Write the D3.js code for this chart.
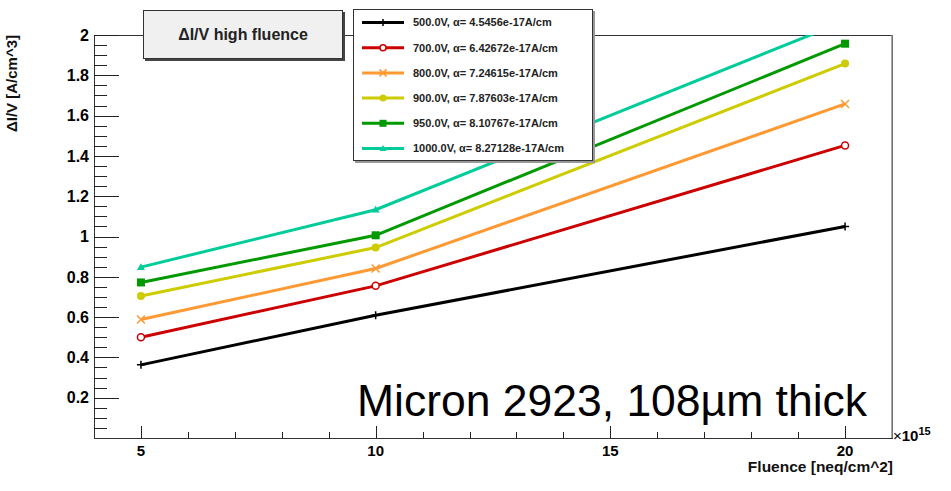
<!doctype html>
<html>
  <head>
    <meta charset="utf-8">
    <title>dI/V high fluence</title>
    <script src="https://cdn.jsdelivr.net/npm/d3@7"></script>
    <style>
      body { margin: 0; background: #fff; }
      text { font-family: "Liberation Sans", Arial, sans-serif; }
    </style>
  </head>
  <body>
    <script>
      // 数据
      const fluence = [5, 10, 20];
      const voltages = ['500.0V', '700.0V', '800.0V', '900.0V', '950.0V', '1000.0V'];
      const alphas = ['4.5456e-17', '6.42672e-17', '7.24615e-17', '7.87603e-17', '8.10767e-17', '8.27128e-17'];
      const v500 = [0.363, 0.609, 1.050];
      const v700 = [0.500, 0.755, 1.452];
      const v800 = [0.588, 0.841, 1.658];
      const v900 = [0.705, 0.945, 1.858];
      const v950 = [0.772, 1.006, 1.957];
      const v1000 = [0.848, 1.133, 2.069];
      const xTicks = [5, 10, 15, 20];
      const yTicks = [0.2, 0.4, 0.6, 0.8, 1, 1.2, 1.4, 1.6, 1.8, 2];

      const seriesValues = [v500, v700, v800, v900, v950, v1000];
      const colors = ['#000000', '#cc0000', '#ff9933', '#cccc00', '#009900', '#00cc99'];
      const markers = ['plus', 'ocircle', 'cross', 'circle', 'square', 'triangle'];

      const svgWidth = 951, svgHeight = 491;
      const pLeft = 94, pRight = 892, pTop = 35, pBottom = 438;

      const svg = d3.select('body').append('svg')
          .attr('width', svgWidth)
          .attr('height', svgHeight);

      const x = d3.scaleLinear().domain([4, 21]).range([pLeft, pRight]);
      const y = d3.scaleLinear().domain([0, 2]).range([pBottom, pTop]);

      svg.append('defs').append('clipPath').attr('id', 'plot')
        .append('rect')
          .attr('x', pLeft).attr('y', pTop)
          .attr('width', pRight - pLeft).attr('height', pBottom - pTop);

      // 框
      svg.append('rect')
          .attr('x', pLeft + 0.5).attr('y', pTop + 0.5)
          .attr('width', pRight - pLeft).attr('height', pBottom - pTop)
          .attr('fill', 'none')
          .attr('stroke', '#333')
          .attr('stroke-width', 1);
      svg.append('line')
          .attr('x1', pRight).attr('x2', pRight).attr('y1', pTop).attr('y2', pBottom)
          .attr('stroke', '#888').attr('stroke-width', 1.5);

      // Y 轴刻度
      const yMinor = d3.range(0.05, 2.001, 0.05);
      svg.append('g').selectAll('line')
        .data(yMinor)
        .enter().append('line')
          .attr('x1', pLeft)
          .attr('x2', d => Math.abs(d * 5 - Math.round(d * 5)) < 1e-6 ? pLeft + 25 : pLeft + 13)
          .attr('y1', d => Math.round(y(d)) + 0.5)
          .attr('y2', d => Math.round(y(d)) + 0.5)
          .attr('stroke', '#222');
      svg.append('g').selectAll('text')
        .data(yTicks)
        .enter().append('text')
          .attr('x', 89)
          .attr('y', d => y(d))
          .attr('dy', '0.36em')
          .attr('text-anchor', 'end')
          .attr('font-size', 16)
          .attr('font-weight', 'bold')
          .text(d => d3.format('~g')(d));

      // X 轴刻度
      const xMinor = d3.range(5, 21, 1);
      svg.append('g').selectAll('line')
        .data(xMinor)
        .enter().append('line')
          .attr('x1', d => Math.round(x(d)) + 0.5)
          .attr('x2', d => Math.round(x(d)) + 0.5)
          .attr('y1', pBottom)
          .attr('y2', d => d % 5 === 0 ? pBottom - 12 : pBottom - 6)
          .attr('stroke', '#222');
      svg.append('g').selectAll('text')
        .data(xTicks)
        .enter().append('text')
          .attr('x', d => x(d))
          .attr('y', 456)
          .attr('text-anchor', 'middle')
          .attr('font-size', 15)
          .attr('font-weight', 'bold')
          .text(d => d);

      const expo = svg.append('text')
          .attr('x', 893).attr('y', 441)
          .attr('font-size', 15);
      expo.append('tspan').text('×');
      expo.append('tspan').attr('font-weight', 'bold').text('10');
      expo.append('tspan').attr('font-weight', 'bold').attr('font-size', 11).attr('dy', -6).text('15');

      // 轴标题
      svg.append('text')
          .attr('x', 893).attr('y', 472)
          .attr('text-anchor', 'end')
          .attr('font-size', 15.5)
          .attr('font-weight', 'bold')
          .attr('fill', '#111')
          .text('Fluence [neq/cm^2]');
      svg.append('text')
          .attr('transform', 'translate(17,35) rotate(-90)')
          .attr('text-anchor', 'end')
          .attr('font-size', 15)
          .attr('font-weight', 'bold')
          .attr('fill', '#111')
          .text('ΔI/V [A/cm^3]');

      // 标记
      function drawMarker(g, type, color, size) {
        const s = size;
        if (type === 'plus') {
          g.append('path').attr('d', `M${-s},0H${s}M0,${-s}V${s}`)
            .attr('stroke', color).attr('stroke-width', 1.5).attr('fill', 'none');
        } else if (type === 'cross') {
          g.append('path').attr('d', `M${-s},${-s}L${s},${s}M${-s},${s}L${s},${-s}`)
            .attr('stroke', color).attr('stroke-width', 1.5).attr('fill', 'none');
        } else if (type === 'ocircle') {
          g.append('circle').attr('r', s - 0.5)
            .attr('stroke', color).attr('stroke-width', 1.5).attr('fill', '#fff');
        } else if (type === 'circle') {
          g.append('circle').attr('r', s).attr('fill', color);
        } else if (type === 'square') {
          g.append('rect').attr('x', -s).attr('y', -s)
            .attr('width', 2 * s).attr('height', 2 * s).attr('fill', color);
        } else {
          g.append('path').attr('d', `M0,${-s}L${s},${s * 0.7}L${-s},${s * 0.7}Z`).attr('fill', color);
        }
      }

      // 曲线
      const line = d3.line()
          .x((d, i) => x(fluence[i]))
          .y(d => y(d));
      const plot = svg.append('g').attr('clip-path', 'url(#plot)');
      seriesValues.forEach((vals, k) => {
        plot.append('path')
            .datum(vals)
            .attr('d', line)
            .attr('fill', 'none')
            .attr('stroke', colors[k])
            .attr('stroke-width', 3);
        vals.forEach((v, i) => {
          const g = plot.append('g')
              .attr('transform', `translate(${x(fluence[i])},${y(v)})`);
          drawMarker(g, markers[k], colors[k], 4);
        });
      });

      // 标题框
      svg.append('rect')
          .attr('x', 145).attr('y', 12)
          .attr('width', 200).attr('height', 49)
          .attr('fill', '#444');
      svg.append('rect')
          .attr('x', 143.5).attr('y', 10.5)
          .attr('width', 199).attr('height', 48)
          .attr('fill', '#f0f0f0')
          .attr('stroke', '#333');
      svg.append('text')
          .attr('x', 243).attr('y', 40)
          .attr('text-anchor', 'middle')
          .attr('font-size', 16)
          .attr('font-weight', 'bold')
          .attr('fill', '#222')
          .text('ΔI/V high fluence');

      // 图例
      svg.append('rect')
          .attr('x', 355).attr('y', 11)
          .attr('width', 240).attr('height', 152)
          .attr('fill', '#999');
      svg.append('rect')
          .attr('x', 353.5).attr('y', 9.5)
          .attr('width', 239).attr('height', 151)
          .attr('fill', '#fff')
          .attr('stroke', '#333');
      const legend = svg.append('g').selectAll('g')
        .data(voltages)
        .enter().append('g')
          .attr('transform', (d, i) => `translate(0,${22.5 + i * 25.2})`);
      legend.append('line')
          .attr('x1', 362).attr('x2', 404)
          .attr('stroke', (d, i) => colors[i])
          .attr('stroke-width', 3);
      legend.each(function (d, i) {
        const g = d3.select(this).append('g').attr('transform', 'translate(383,0)');
        drawMarker(g, markers[i], colors[i], 3.5);
      });
      legend.append('text')
          .attr('x', 413).attr('dy', '0.36em')
          .attr('font-size', 11)
          .attr('font-weight', 'bold')
          .attr('fill', '#222')
          .text((d, i) => `${d}, α= ${alphas[i]}A/cm`);

      // 注释
      svg.append('text')
          .attr('x', 357).attr('y', 416)
          .attr('font-family', '"Open Sans", sans-serif')
          .attr('font-size', 45)
          .attr('textLength', 510)
          .attr('lengthAdjust', 'spacingAndGlyphs')
          .attr('fill', '#000')
          .text('Micron 2923, 108µm thick');
    </script>
  </body>
</html>
